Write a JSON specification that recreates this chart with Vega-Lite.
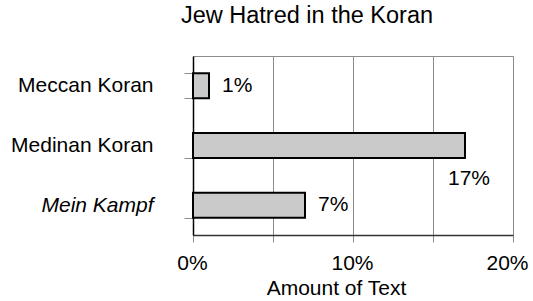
{
  "$schema": "https://vega.github.io/schema/vega-lite/v6.json",
  "autosize": "none",
  "padding": {"left": 193, "top": 56, "right": 20, "bottom": 66},
  "width": 320,
  "height": 179,
  "background": "white",
  "title": {
    "text": "Jew Hatred in the Koran",
    "font": "Liberation Sans",
    "fontSize": 23.5,
    "fontWeight": "normal",
    "color": "black",
    "anchor": "middle",
    "dx": -46,
    "offset": 18
  },
  "config": {
    "view": {"stroke": "#8c8c8c", "strokeWidth": 1},
    "font": "Liberation Sans"
  },
  "data": {
    "values": [
      {"source": "Meccan Koran", "share": 0.01, "label": "1%"},
      {"source": "Medinan Koran", "share": 0.17, "label": "17%"},
      {"source": "Mein Kampf", "share": 0.07, "label": "7%"}
    ]
  },
  "encoding": {
    "y": {
      "field": "source",
      "type": "nominal",
      "sort": ["Meccan Koran", "Medinan Koran", "Mein Kampf"],
      "scale": {"paddingInner": 0.58, "paddingOuter": 0.29},
      "axis": {
        "title": null,
        "tickBand": "extent",
        "domainColor": "black",
        "domainWidth": 1.5,
        "tickColor": "#8c8c8c",
        "tickSize": 9,
        "labelPadding": 31,
        "labelFont": "Liberation Sans",
        "labelFontSize": 21,
        "labelColor": "black",
        "labelFontStyle": {"condition": {"test": "datum.value == 'Mein Kampf'", "value": "italic"}, "value": "normal"}
      }
    }
  },
  "layer": [
    {
      "mark": {"type": "bar", "fill": "#cacaca", "stroke": "black", "strokeWidth": 2},
      "encoding": {
        "x": {
          "field": "share",
          "type": "quantitative",
          "scale": {"domain": [0, 0.2], "nice": false},
          "axis": {
            "title": "Amount of Text",
            "titleFont": "Liberation Sans",
            "titleFontSize": 21,
            "titleFontWeight": "normal",
            "titleColor": "black",
            "titleX": 143,
            "titlePadding": 4,
            "values": [0, 0.05, 0.1, 0.15, 0.2],
            "labelExpr": "datum.value == 0.05 || datum.value == 0.15 ? '' : format(datum.value, '.0%')",
            "grid": true,
            "gridColor": "#8c8c8c",
            "gridOpacity": 1,
            "domainColor": "#333333",
            "domainWidth": 1.5,
            "tickColor": "#8c8c8c",
            "tickSize": 7,
            "labelPadding": 10,
            "labelFont": "Liberation Sans",
            "labelFontSize": 21,
            "labelColor": "black",
            "labelFlush": false,
            "labelBound": false,
            "labelOffset": {"condition": {"test": "datum.value == 0.2", "value": -6}, "value": -1}
          }
        }
      }
    },
    {
      "transform": [{"filter": "datum.source != 'Medinan Koran'"}],
      "mark": {"type": "text", "align": "left", "baseline": "middle", "dx": 13, "fontSize": 21, "font": "Liberation Sans", "color": "black"},
      "encoding": {
        "x": {"field": "share", "type": "quantitative"},
        "text": {"field": "label"}
      }
    },
    {
      "transform": [{"filter": "datum.source == 'Medinan Koran'"}],
      "mark": {"type": "text", "align": "center", "baseline": "middle", "dx": 4, "dy": 33, "fontSize": 21, "font": "Liberation Sans", "color": "black"},
      "encoding": {
        "x": {"field": "share", "type": "quantitative"},
        "text": {"field": "label"}
      }
    }
  ]
}
